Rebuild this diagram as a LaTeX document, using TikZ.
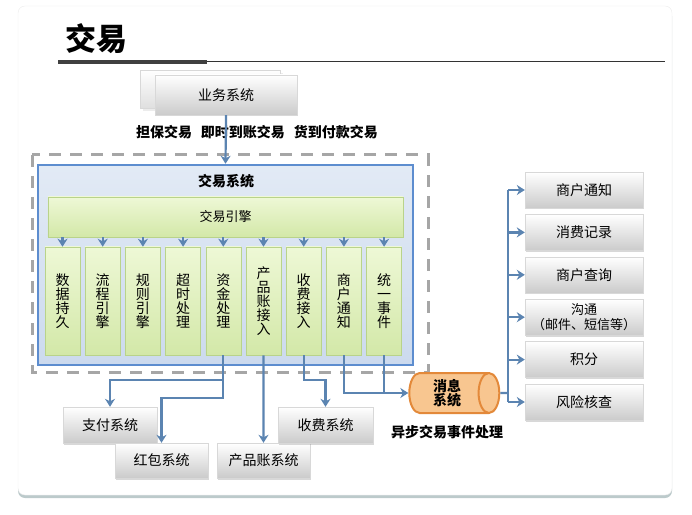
\documentclass[tikz,border=0pt]{standalone}
\usepackage{fontspec}
\setmainfont{Noto Sans CJK SC}
\usepackage{xcolor}
\usetikzlibrary{positioning,arrows.meta,shapes.geometric,shadows}

\definecolor{connblue}{HTML}{5B84B1}
\definecolor{sysline}{HTML}{5D8DCF}
\definecolor{systop}{HTML}{E2EAF5}
\definecolor{sysbot}{HTML}{CCDAEE}
\definecolor{engtop}{HTML}{EEF8D6}
\definecolor{engbot}{HTML}{D3E8A8}
\definecolor{engline}{HTML}{B9D38A}
\definecolor{boxbot}{HTML}{CBCBCB}
\definecolor{boxline}{HTML}{D8D8D8}
\definecolor{dashgray}{HTML}{A6A6A6}
\definecolor{msgfill}{HTML}{F8C690}
\definecolor{msgline}{HTML}{E3893A}
\definecolor{cardshade}{HTML}{8FA7A9}

\begin{document}
\begin{tikzpicture}[x=1bp, y=-1bp,
    conn/.style={draw=connblue, line width=2.2bp, -{Stealth[length=8bp,width=10bp]}},
    link/.style={draw=connblue, line width=2.2bp},
    grbox/.style={top color=white, bottom color=boxbot, draw=boxline, line width=.4bp,
        minimum width=#1, minimum height=36bp, inner sep=1bp, align=center,
        font=\fontsize{14bp}{15bp}\selectfont,
        drop shadow={shadow xshift=.5bp, shadow yshift=-1.5bp, opacity=.3}},
    grbox/.default=118bp,
    colbox/.style={top color=engtop, bottom color=engbot, draw=engline, line width=.5bp,
        minimum width=35bp, minimum height=108bp, inner sep=0pt, align=center,
        font=\fontsize{14bp}{14bp}\selectfont}
]
\useasboundingbox (0,0) rectangle (692,515);

% card
\fill[white, draw=gray!15, rounded corners=7bp,
      drop shadow={shadow xshift=0bp, shadow yshift=-3bp, opacity=.6, fill=cardshade}]
      (18,6) rectangle (672,495);

% title
\node[font=\fontsize{31bp}{31bp}\selectfont\bfseries] (title) at (96,39) {交易};
\draw[line width=4bp, black!75] (58,62) -- (207,62);
\draw[line width=1bp, black!80] (207,62) -- (665,62);

% business system
\node[grbox=140bp, minimum height=38bp, top color=white, bottom color=gray!25,
      drop shadow={opacity=.15}] (bizback) at (210,89) {};
\node[grbox=142bp, minimum height=40bp] (biz) at (226,95) {业务系统};
\node[font=\fontsize{14bp}{15bp}\selectfont\bfseries] (kinds) at (257,132)
    {担保交易\hspace{9bp}即时到账交易\hspace{9bp}货到付款交易};

% trade system
\draw[dashgray, line width=3bp, dash pattern=on 12bp off 9bp] (32,155) rectangle (428,372);
\node[top color=systop, bottom color=sysbot, draw=sysline, line width=2.5bp,
      minimum width=375bp, minimum height=200bp] (sys) at (225.5,265) {};
\node[font=\fontsize{14bp}{15bp}\selectfont\bfseries] (systitle) at (226,181) {交易系统};
\node[top color=engtop, bottom color=engbot, draw=engline, line width=.5bp,
      minimum width=355bp, minimum height=40bp, font=\fontsize{13bp}{14bp}\selectfont]
      (eng) at (225.5,217) {交易引擎};

\foreach \i/\t in {1/{数\\据\\持\\久},2/{流\\程\\引\\擎},3/{规\\则\\引\\擎},
    4/{超\\时\\处\\理},5/{资\\金\\处\\理},6/{产\\品\\账\\接\\入},
    7/{收\\费\\接\\入},8/{商\\户\\通\\知},9/{统\\一\\事\\件}}{
  \node[colbox] (col\i) at ({62.5+40.2*(\i-1)},301) {\t};
  \draw[conn] (col\i |- eng.south) -- (col\i.north);
}

\draw[conn] (biz.south) -- (sys.north);

% downstream systems
\node[grbox=94bp] (pay) at (110,425) {支付系统};
\node[grbox=93bp, minimum height=35bp] (hb) at (161.5,460.5) {红包系统};
\node[grbox=93bp, minimum height=35bp] (prod) at (263.5,460.5) {产品账系统};
\node[grbox=95bp] (fee) at (325.5,425) {收费系统};

\draw[conn] (col5.south) -- ++(0,25) -| (pay.north);
\draw[conn] (col5.south) -- ++(0,43) -| (hb.north);
\draw[conn] (col6.south) -- (prod.north);
\draw[conn] (col7.south) -- ++(0,25) -| (fee.north);

% message system
\node[cylinder, shape aspect=.7, draw=msgline, line width=2bp, fill=msgfill,
      minimum width=40bp, minimum height=90bp, inner sep=1bp, align=center,
      font=\fontsize{14bp}{14bp}\selectfont\bfseries] (msg) at (447,393) {消息\\系统};
\node[below=8bp of msg, font=\fontsize{14bp}{15bp}\selectfont\bfseries] (async) {异步交易事件处理};

\draw[conn] (col8.south) |- (msg.west);
\draw[link] (col9.south) -- (col9.south |- msg.west);

% event consumers
\node[grbox] (r1) at (584,190) {商户通知};
\node[grbox, below=6bp of r1] (r2) {消费记录};
\node[grbox, below=6bp of r2] (r3) {商户查询};
\node[grbox, below=6bp of r3, font=\fontsize{13bp}{15bp}\selectfont] (r4) {沟通\\（邮件、短信等）};
\node[grbox, below=6bp of r4] (r5) {积分};
\node[grbox, below=6bp of r5] (r6) {风险核查};

\coordinate (bus) at (508,393);
\draw[link] (msg.east) -- (bus);
\draw[link] (bus |- r1) -- (bus |- r6);
\foreach \i in {1,...,6}
  \draw[conn] (bus |- r\i) -- (r\i.west);
\end{tikzpicture}
\end{document}
